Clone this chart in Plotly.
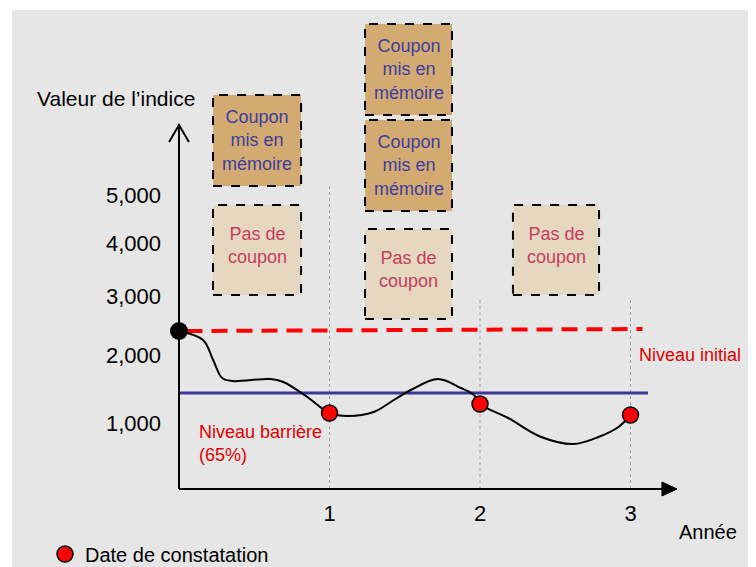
import plotly.graph_objects as go

# ---------------- data (schematic units: x in years, y in index-level units) ----------------
years = [1, 2, 3]
year_labels = ["1", "2", "3"]

y_tick_vals = [66, 134, 193, 246, 294]
y_tick_labels = ["1,000", "2,000", "3,000", "4,000", "5,000"]

# index path
path_x = [0.0, 0.16, 0.227, 0.287, 0.353, 0.607, 0.693, 0.853, 1.0, 1.12, 1.293,
          1.427, 1.54, 1.72, 1.873, 1.96, 2.0, 2.187, 2.407, 2.62, 2.787, 2.92, 3.0]
path_y = [158, 149, 129, 111, 108, 110, 107, 92, 76, 73, 77,
          89, 99, 110, 101, 94, 85, 71, 52, 45, 52, 62, 74]

start_x, start_y = [0.0], [158]
obs_x = [1, 2, 3]
obs_y = [76, 85, 74]

initial_level = [158, 160]      # start / end of the dashed "niveau initial" line
initial_span = [0.05, 3.08]
barrier_level = 96
barrier_span = [0.0, 3.116]

# coupon boxes: label, x0, x1, y0, y1, kind
boxes = [
    ("Coupon<br>mis en<br>mémoire", 0.226, 0.811, 303, 394, "memo"),
    ("Pas de<br>coupon",           0.226, 0.811, 194, 284, "none"),
    ("Coupon<br>mis en<br>mémoire", 1.236, 1.814, 374, 465, "memo"),
    ("Coupon<br>mis en<br>mémoire", 1.236, 1.814, 278, 369, "memo"),
    ("Pas de<br>coupon",           1.236, 1.814, 170, 260, "none"),
    ("Pas de<br>coupon",           2.219, 2.791, 194, 284, "none"),
]
guide_tops = [306, 192, 192]   # tops of the dotted year guides

FONT = "Liberation Sans, Arial, sans-serif"
W, H = 748, 559            # page body adds an 8px margin
px_per_year = 150.5
x0_px, base_px = 171, 481
x_range = [-x0_px / px_per_year, (W - x0_px) / px_per_year]
y_range = [-(H - base_px), base_px]

fig = go.Figure()

# gray panel
shapes = [dict(type="rect", xref="paper", yref="paper", x0=4 / W, x1=1, y0=0, y1=(H - 2) / H,
               fillcolor="#e6e6e6", line=dict(width=0), layer="below")]

# dotted year guides
for yr, top in zip(years, guide_tops):
    shapes.append(dict(type="line", x0=yr, x1=yr, y0=0, y1=top,
                       line=dict(color="#9a9a9a", width=1, dash="dot"), layer="below"))

# boxes
annotations = []
for label, bx0, bx1, by0, by1, kind in boxes:
    fill = "#d3ab72" if kind == "memo" else "#e6d7c1"
    tcol = "#3d3d9e" if kind == "memo" else "#c53e5e"
    shapes.append(dict(type="rect", x0=bx0, x1=bx1, y0=by0, y1=by1, fillcolor=fill,
                       line=dict(color="black", width=2, dash="dash"), layer="below"))
    annotations.append(dict(x=(bx0 + bx1) / 2, y=(by0 + by1) / 2 + (0 if kind == "memo" else 5),
                            text=label, showarrow=False, font=dict(family=FONT, size=18, color=tcol),
                            xanchor="center", yanchor="middle"))

# axes with arrows
shapes.append(dict(type="line", x0=0, x1=0, y0=0, y1=364, line=dict(color="black", width=2)))
shapes.append(dict(type="path", path="M -0.066 347 L 0 364 L 0.066 347",
                   line=dict(color="black", width=2)))
shapes.append(dict(type="line", x0=0, x1=3.22, y0=0, y1=0, line=dict(color="black", width=2)))
shapes.append(dict(type="path", path="M 3.209 -7 L 3.309 0 L 3.209 7 Z",
                   fillcolor="black", line=dict(color="black", width=1)))

# levels
fig.add_trace(go.Scatter(x=initial_span, y=initial_level, mode="lines",
                         line=dict(color="#ff0000", width=4, dash="16px,9px"),
                         showlegend=False, hoverinfo="skip"))
fig.add_trace(go.Scatter(x=barrier_span, y=[barrier_level, barrier_level], mode="lines",
                         line=dict(color="#3a3a9a", width=3), showlegend=False, hoverinfo="skip"))

# index path
fig.add_trace(go.Scatter(x=path_x, y=path_y, mode="lines", line=dict(color="black", width=2, shape="spline"),
                         showlegend=False, hoverinfo="skip"))
fig.add_trace(go.Scatter(x=start_x, y=start_y, mode="markers",
                         marker=dict(color="black", size=18), showlegend=False))
fig.add_trace(go.Scatter(x=obs_x, y=obs_y, mode="markers", name="Date de constatation",
                         marker=dict(color="#ff0000", size=16, line=dict(color="black", width=1.5))))

# texts
annotations += [
    dict(x=-0.957, y=391, text="Valeur de l\u2019indice", showarrow=False, xanchor="left", yanchor="middle",
         font=dict(family=FONT, size=21, color="black")),
    dict(x=3.043, y=134, text="Niveau initial", showarrow=False, xanchor="left", yanchor="middle",
         font=dict(family=FONT, size=18, color="#e00000")),
    dict(x=0.12, y=46, text="Niveau barrière<br>(65%)", showarrow=False, xanchor="left", yanchor="middle",
         align="left", font=dict(family=FONT, size=18, color="#e00000")),
    dict(x=3.309, y=-43, text="Année", showarrow=False, xanchor="left", yanchor="middle",
         font=dict(family=FONT, size=20, color="black")),
]

fig.update_layout(
    width=W, height=H, margin=dict(l=0, r=0, t=0, b=0, autoexpand=False),
    paper_bgcolor="white", plot_bgcolor="rgba(0,0,0,0)",
    shapes=shapes, annotations=annotations,
    showlegend=True,
    legend=dict(xref="container", yref="container", x=37 / W, y=13 / H, xanchor="left", yanchor="middle",
                bgcolor="rgba(0,0,0,0)", font=dict(family=FONT, size=20, color="black")),
    xaxis=dict(range=x_range, showgrid=False, zeroline=False, showline=False,
               tickvals=years, ticktext=year_labels, ticks="",
               tickfont=dict(family=FONT, size=22, color="black"),
               anchor="free", position=(H - base_px) / H, ticklabelstandoff=9, fixedrange=True),
    yaxis=dict(range=y_range, showgrid=False, zeroline=False, showline=False,
               tickvals=y_tick_vals, ticktext=y_tick_labels, ticks="",
               tickfont=dict(family=FONT, size=22, color="black"),
               anchor="free", position=x0_px / W, ticklabelstandoff=18, fixedrange=True),
)

fig.write_html("out.html")
